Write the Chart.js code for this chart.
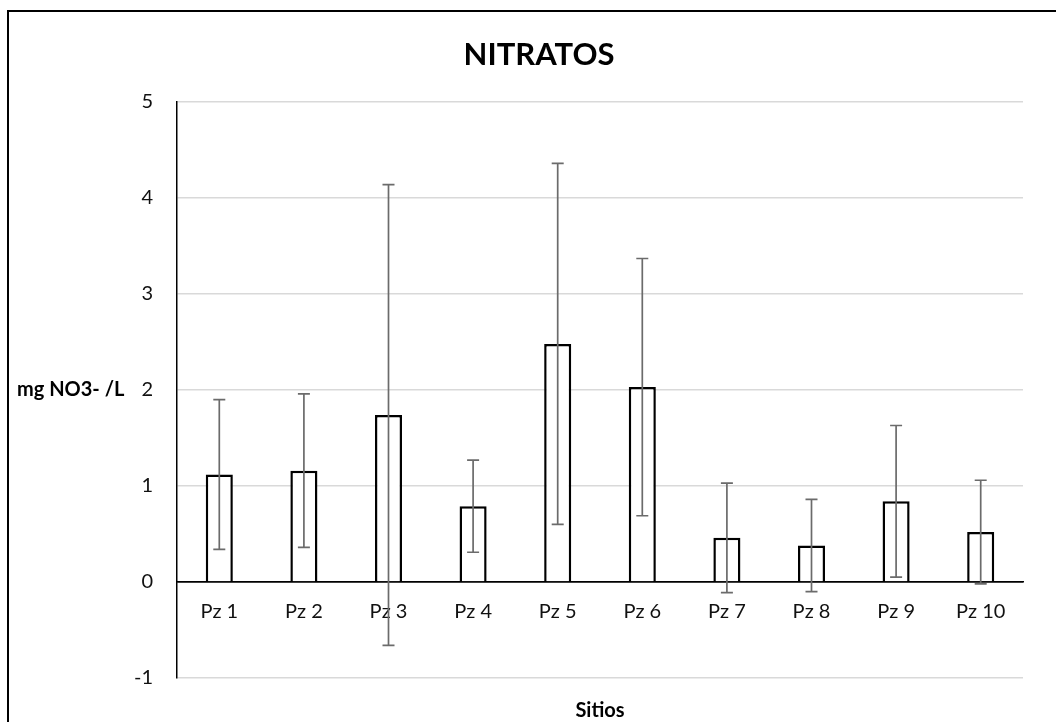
<!DOCTYPE html>
<html>
<head>
<meta charset="utf-8">
<script src="https://cdn.jsdelivr.net/npm/chart.js@4"></script>
<style>
    body { margin: 0; background: #fff; overflow: hidden; }
    #contenitore { width: 1056px; height: 722px; }
</style>
</head>
<body>
<div id="contenitore">
    <canvas id="grafico" width="1056" height="722"></canvas>
</div>
<script>
// dati
var sitios = ['Pz 1', 'Pz 2', 'Pz 3', 'Pz 4', 'Pz 5', 'Pz 6', 'Pz 7', 'Pz 8', 'Pz 9', 'Pz 10'];
var medias = [1.12, 1.16, 1.74, 0.79, 2.48, 2.03, 0.46, 0.38, 0.84, 0.52];
var desviaciones = [0.78, 0.80, 2.40, 0.48, 1.88, 1.34, 0.57, 0.48, 0.79, 0.54];
var ejeY = [-1, 0, 1, 2, 3, 4, 5];

var titulo = 'NITRATOS';
var tituloY = 'mg NO3- /L';
var tituloX = 'Sitios';

var fuente = 'Lato';

// barre di errore sopra le colonne
var barreErrore = {
    id: 'barreErrore',
    afterDatasetsDraw: function(chart) {
        var ctx = chart.ctx;
        var scalaY = chart.scales.y;
        var meta = chart.getDatasetMeta(0);

        ctx.save();
        ctx.strokeStyle = '#6b6b6b';
        ctx.lineWidth = 1.7;

        for (var i = 0; i < meta.data.length; i++) {
            var x = meta.data[i].x;
            var alto = scalaY.getPixelForValue(medias[i] + desviaciones[i]);
            var basso = scalaY.getPixelForValue(medias[i] - desviaciones[i]);

            ctx.beginPath();
            ctx.moveTo(x, alto);
            ctx.lineTo(x, basso);
            ctx.moveTo(x - 6, alto);
            ctx.lineTo(x + 6, alto);
            ctx.moveTo(x - 6, basso);
            ctx.lineTo(x + 6, basso);
            ctx.stroke();
        }
        ctx.restore();
    }
};

// titoli e cornice
var testi = {
    id: 'testi',
    afterDraw: function(chart) {
        var ctx = chart.ctx;
        var area = chart.chartArea;

        ctx.save();
        ctx.fillStyle = '#000';
        ctx.textBaseline = 'alphabetic';

        ctx.font = 'bold 31px ' + fuente;
        ctx.textAlign = 'center';
        ctx.fillText(titulo, 539, 65);

        ctx.font = 'bold 20px ' + fuente;
        ctx.fillText(tituloX, (area.left + area.right) / 2, 717);

        ctx.textAlign = 'left';
        ctx.fillText(tituloY, 17, 396);

        ctx.strokeStyle = '#000';
        ctx.lineWidth = 2;
        ctx.strokeRect(8, 11, 1100, 800);
        ctx.restore();
    }
};

var ctx = document.getElementById('grafico');

var chart = new Chart(ctx, {
    type: 'bar',
    data: {
        labels: sitios,
        datasets: [{
            data: medias,
            backgroundColor: '#ffffff',
            borderColor: '#000000',
            borderWidth: 2.5,
            categoryPercentage: 1,
            barPercentage: 0.32
        }]
    },
    options: {
        responsive: false,
        animation: false,
        layout: {
            padding: { top: 102, right: 33, bottom: 44, left: 0 }
        },
        plugins: {
            legend: { display: false },
            tooltip: { enabled: false }
        },
        scales: {
            x: {
                position: { y: 0 },
                grid: { display: false, drawTicks: false },
                border: { display: true, color: '#000', width: 1.5 },
                ticks: {
                    padding: 18,
                    color: '#111',
                    font: { family: fuente, size: 20 }
                }
            },
            y: {
                min: ejeY[0],
                max: ejeY[ejeY.length - 1],
                afterFit: function(scale) {
                    scale.width = 177;
                },
                ticks: {
                    stepSize: 1,
                    padding: 24,
                    color: '#111',
                    font: { family: fuente, size: 20 }
                },
                grid: {
                    drawTicks: false,
                    lineWidth: 1.5,
                    color: function(c) {
                        return c.tick && c.tick.value === 0 ? '#000' : '#d9d9d9';
                    }
                },
                border: { display: true, color: '#000', width: 1.5 }
            }
        }
    },
    plugins: [barreErrore, testi]
});
</script>
</body>
</html>
